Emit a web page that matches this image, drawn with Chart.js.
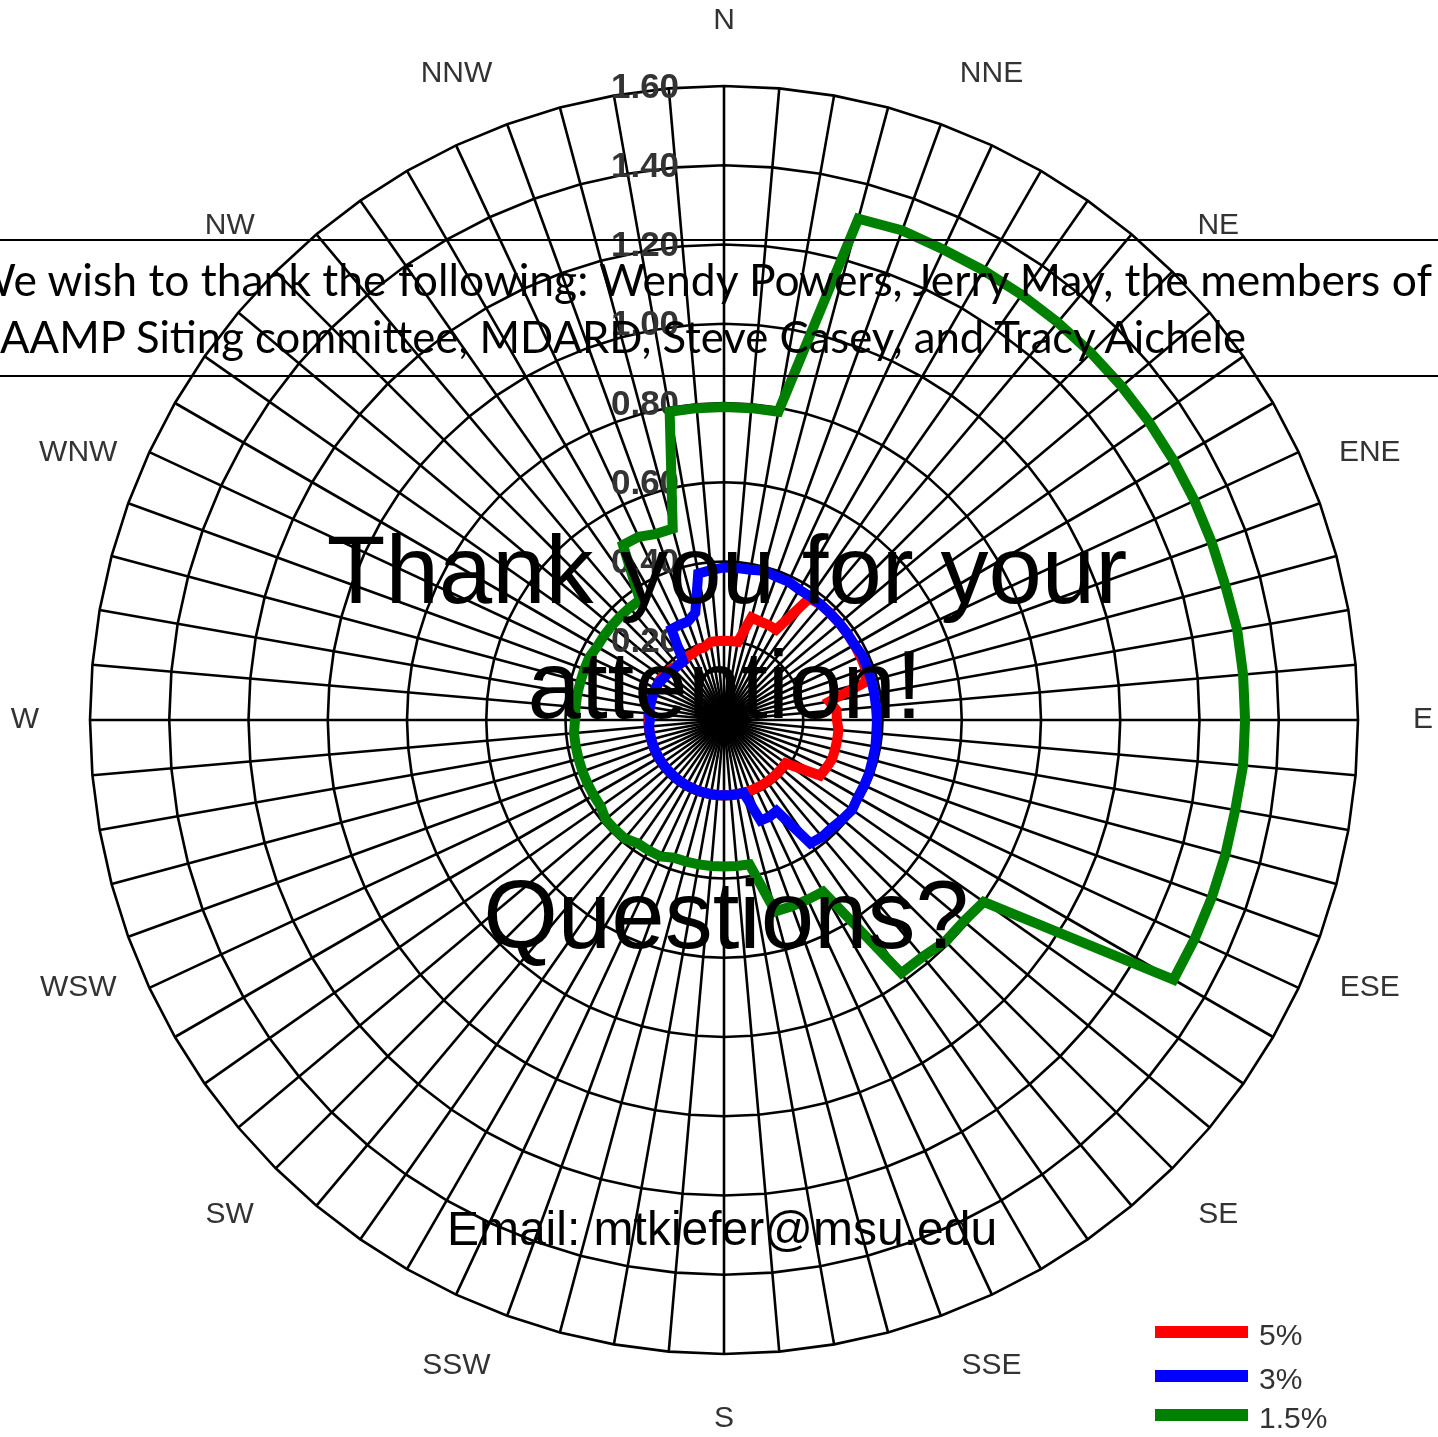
<!DOCTYPE html>
<html>
<head>
<meta charset="utf-8">
<script src="https://cdn.jsdelivr.net/npm/chart.js@4.4.1/dist/chart.umd.min.js"></script>
<style>
  html, body { margin: 0; padding: 0; background: #fff; }
  #wrap { position: relative; width: 1438px; height: 1437px; overflow: hidden; }
  #myChart { position: absolute; left: 0; top: 0; }
  #slide { position: absolute; left: 0; top: 0; }
</style>
</head>
<body>
<div id="wrap">
  <canvas id="myChart" width="1438" height="1437"></canvas>
  <svg id="slide" width="1438" height="1437" xmlns="http://www.w3.org/2000/svg">
    <line x1="0" y1="240" x2="1438" y2="240" stroke="#000" stroke-width="2"/>
    <line x1="0" y1="376" x2="1438" y2="376" stroke="#000" stroke-width="2"/>
    <text x="-30" y="296" font-family="Lato, 'Open Sans', sans-serif" font-size="44" textLength="1462" lengthAdjust="spacingAndGlyphs">We wish to thank the following: Wendy Powers, Jerry May, the members of</text>
    <text x="0" y="353" font-family="Lato, 'Open Sans', sans-serif" font-size="44" textLength="1246" lengthAdjust="spacingAndGlyphs">AAMP Siting committee, MDARD, Steve Casey, and Tracy Aichele</text>
    <g font-family="'Liberation Sans', Arial, sans-serif" text-anchor="middle" fill="#000">
      <text x="727" y="603" font-size="96">Thank you for your</text>
      <text x="725" y="718" font-size="96">attention!</text>
      <text x="726" y="948" font-size="96">Questions?</text>
      <text x="722" y="1245" font-size="48">Email: mtkiefer@msu.edu</text>
    </g>
  </svg>
</div>
<script>
// direction bins, 5 degrees apart, clockwise from north
const angles = ['0','5','10','15','20','25','30','35','40','45','50','55',
  '60','65','70','75','80','85','90','95','100','105','110','115',
  '120','125','130','135','140','145','150','155','160','165','170','175',
  '180','185','190','195','200','205','210','215','220','225','230','235',
  '240','245','250','255','260','265','270','275','280','285','290','295',
  '300','305','310','315','320','325','330','335','340','345','350','355'];

const compass = ['N','NNE','NE','ENE','E','ESE','SE','SSE','S','SSW','SW','WSW','W','WNW','NW','NNW'];

const tickValues = [0.2, 0.4, 0.6, 0.8, 1.0, 1.2, 1.4, 1.6];
const tickLabels = ['0.20','0.40','0.60','0.80','1.00','1.20','1.40','1.60'];

// 5% exceedance
const red = [0.20,0.20,0.20,0.268,0.265,0.265,0.263,0.375,0.38,0.38,0.38,0.38,
  0.38,0.38,0.38,0.37,0.27,0.285,0.285,0.29,0.29,0.29,0.29,0.285,
  0.28,0.19,0.19,0.19,0.19,0.19,0.19,0.19,0.19,0.19,0.19,0.19,
  0.19,0.19,0.19,0.19,0.19,0.19,0.19,0.19,0.19,0.19,0.19,0.19,
  0.19,0.19,0.19,0.19,0.19,0.19,0.19,0.19,0.19,0.19,0.19,0.19,
  0.19,0.19,0.19,0.185,0.18,0.18,0.185,0.185,0.19,0.19,0.20,0.20];

// 3% exceedance
const blue = [0.385,0.385,0.385,0.39,0.385,0.385,0.38,0.38,0.38,0.38,0.38,0.38,
  0.38,0.385,0.385,0.385,0.385,0.385,0.386,0.386,0.388,0.388,0.39,0.39,
  0.39,0.395,0.39,0.385,0.385,0.38,0.265,0.27,0.27,0.19,0.19,0.19,
  0.19,0.19,0.19,0.19,0.19,0.19,0.19,0.19,0.19,0.19,0.19,0.19,
  0.19,0.19,0.19,0.19,0.19,0.19,0.187,0.19,0.19,0.19,0.19,0.19,
  0.19,0.185,0.185,0.18,0.18,0.18,0.265,0.265,0.265,0.28,0.375,0.38];

// 1.5% exceedance
const green = [0.79,0.79,0.79,1.31,1.315,1.31,1.31,1.31,1.31,1.31,1.31,1.31,
  1.31,1.31,1.31,1.31,1.315,1.315,1.315,1.315,1.31,1.31,1.31,1.31,
  1.31,0.80,0.79,0.79,0.78,0.78,0.50,0.50,0.50,0.50,0.37,0.37,
  0.37,0.37,0.37,0.37,0.37,0.38,0.38,0.38,0.39,0.39,0.39,0.38,
  0.38,0.38,0.38,0.38,0.38,0.38,0.376,0.376,0.376,0.375,0.375,0.375,
  0.37,0.37,0.37,0.37,0.37,0.37,0.51,0.51,0.50,0.50,0.79,0.79];

const roseLabels = {
  id: 'roseLabels',
  beforeDatasetsDraw(chart) {
    const s = chart.scales.r;
    const ctx = chart.ctx;
    ctx.save();
    ctx.textAlign = 'center';
    ctx.textBaseline = 'middle';
    ctx.fillStyle = '#333';
    ctx.font = 'bold 35px "Liberation Sans", Arial, sans-serif';
    tickValues.forEach((v, i) => {
      const d = s.getDistanceFromCenterForValue(v);
      ctx.fillText(tickLabels[i], s.xCenter - 79, s.yCenter - d + 2);
    });
    ctx.font = '30px "Liberation Sans", Arial, sans-serif';
    compass.forEach((c, k) => {
      const p = s.getPointPosition(k * angles.length / compass.length, s.drawingArea + 65);
      ctx.fillText(c, p.x, p.y);
    });
    ctx.restore();
  },
  afterDraw(chart) {
    const ctx = chart.ctx;
    const rows = [1332, 1376, 1415];
    ctx.save();
    ctx.font = '30px "Liberation Sans", Arial, sans-serif';
    ctx.textBaseline = 'middle';
    ctx.textAlign = 'left';
    chart.data.datasets.forEach((ds, i) => {
      ctx.fillStyle = ds.borderColor;
      ctx.fillRect(1155, rows[i] - 6, 93, 12);
      ctx.fillStyle = '#333';
      ctx.fillText(ds.label, 1259, rows[i] + 5);
    });
    ctx.restore();
  }
};

const ctx = document.getElementById('myChart').getContext('2d');
const myChart = new Chart(ctx, {
  type: 'radar',
  data: {
    labels: angles,
    datasets: [
      { label: '5%', data: red, borderColor: '#ff0000', borderWidth: 10, order: 1 },
      { label: '3%', data: blue, borderColor: '#0000ff', borderWidth: 10, order: 0 },
      { label: '1.5%', data: green, borderColor: '#008000', borderWidth: 10, order: 2 }
    ]
  },
  options: {
    responsive: false,
    animation: false,
    devicePixelRatio: 1,
    layout: { padding: { left: 90, right: 80, top: 86, bottom: 83 } },
    elements: {
      line: { tension: 0, fill: false, borderJoinStyle: 'miter' },
      point: { radius: 0, hoverRadius: 0 }
    },
    plugins: {
      legend: { display: false },
      tooltip: { enabled: false }
    },
    scales: {
      r: {
        min: 0,
        max: 1.6,
        ticks: { stepSize: 0.2, display: false },
        grid: { color: '#000', lineWidth: 2.6, circular: false },
        angleLines: { color: '#000', lineWidth: 2.6 },
        pointLabels: { display: false }
      }
    }
  },
  plugins: [roseLabels]
});
</script>
</body>
</html>
